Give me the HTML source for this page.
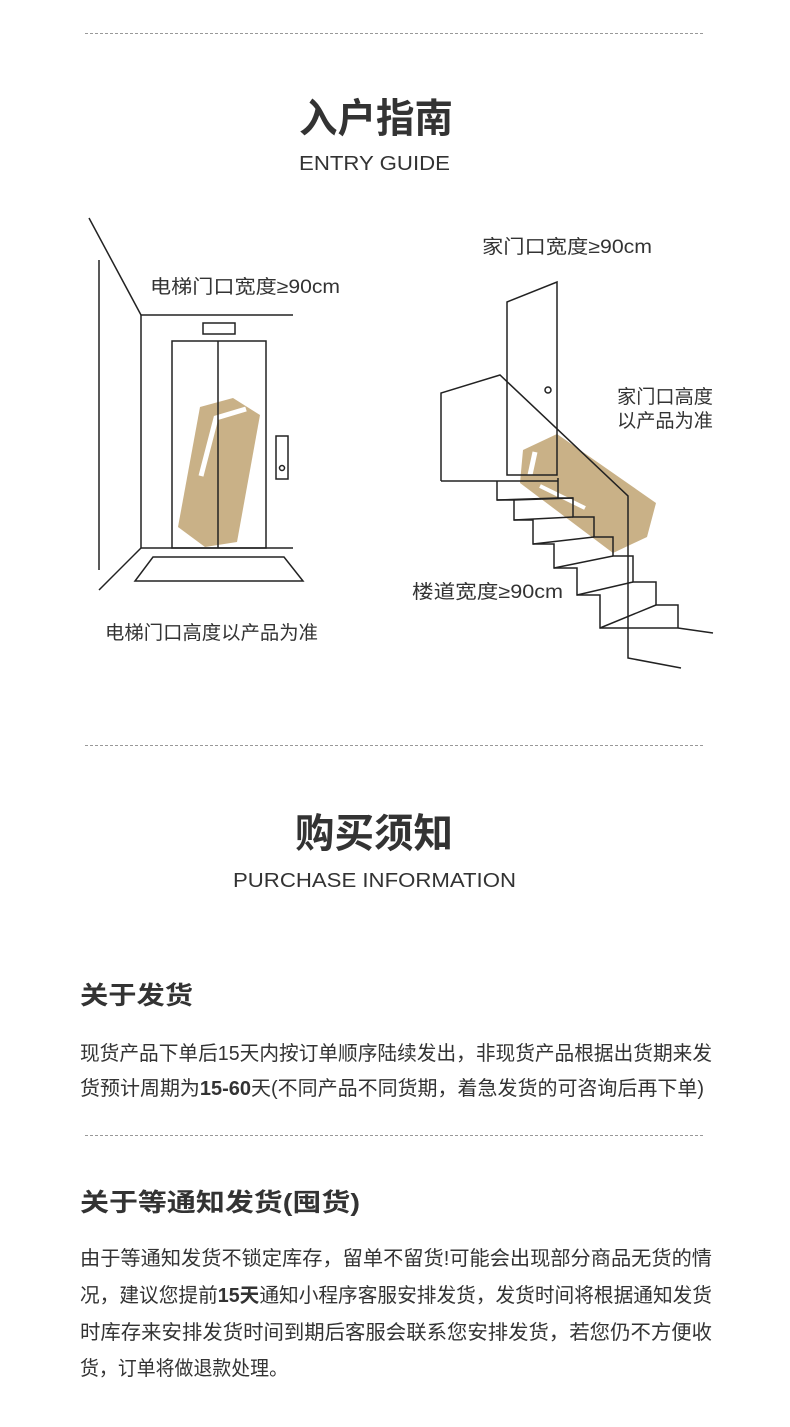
<!DOCTYPE html>
<html><head><meta charset="utf-8"><style>
html,body{margin:0;padding:0;background:#fff;}
svg{display:block;}
text{font-family:"Liberation Sans","Noto Sans CJK SC",sans-serif;fill:#333;}
.b{font-weight:bold;}
</style></head><body>
<svg width="790" height="1427" viewBox="0 0 790 1427" xmlns="http://www.w3.org/2000/svg">
<g stroke="#999" stroke-width="1" stroke-dasharray="3,2">
<line x1="85" y1="33.5" x2="705" y2="33.5"/>
<line x1="85" y1="745.5" x2="705" y2="745.5"/>
<line x1="85" y1="1135.5" x2="705" y2="1135.5"/>
</g>
<text x="299" y="132" font-size="40" class="b" textLength="154" lengthAdjust="spacingAndGlyphs">入户指南</text>
<text x="299" y="170" font-size="20" fill="#444" textLength="151" lengthAdjust="spacingAndGlyphs">ENTRY GUIDE</text>
<text x="295" y="847" font-size="40" class="b" textLength="158" lengthAdjust="spacingAndGlyphs">购买须知</text>
<text x="233" y="887" font-size="20" fill="#444" textLength="283" lengthAdjust="spacingAndGlyphs">PURCHASE INFORMATION</text>

<!-- elevator -->
<polygon points="200,407 233,398 260,415 237,542 205,547 178,527" fill="#c9b187"/>
<polyline points="201,476 216,418 246,409" fill="none" stroke="#fff" stroke-width="5"/>
<g fill="none" stroke="#222" stroke-width="1.5">
<line x1="89" y1="218" x2="141" y2="315"/>
<line x1="99" y1="260" x2="99" y2="570"/>
<line x1="141" y1="315" x2="293" y2="315"/>
<line x1="141" y1="315" x2="141" y2="548"/>
<line x1="141" y1="548" x2="293" y2="548"/>
<line x1="141" y1="548" x2="99" y2="590"/>
<polygon points="153,557 284,557 303,581 135,581"/>
<rect x="203" y="323" width="32" height="11"/>
<rect x="172" y="341" width="94" height="207"/>
<line x1="218" y1="341" x2="218" y2="548"/>
<rect x="276" y="436" width="12" height="43"/>
<circle cx="282" cy="468" r="2.5"/>
</g>
<text x="150" y="293" font-size="19" fill="#444" textLength="190" lengthAdjust="spacingAndGlyphs">电梯门口宽度≥90cm</text>
<text x="105" y="639" font-size="19" fill="#444" textLength="213" lengthAdjust="spacingAndGlyphs">电梯门口高度以产品为准</text>

<!-- stairs -->
<polygon points="523,450 557,434 656,503 647,537 613,553 520,483" fill="#c9b187"/>
<polyline points="530,475 535,452" fill="none" stroke="#fff" stroke-width="5"/>
<polyline points="540,486 585,508" fill="none" stroke="#fff" stroke-width="4"/>
<g fill="none" stroke="#222" stroke-width="1.5">
<polygon points="507,302 557,282 557,475 507,475"/>
<circle cx="548" cy="390" r="3"/>
<polyline points="441,481 441,393 500,375 628,496 628,658 681,668"/>
<line x1="441" y1="481" x2="558" y2="481"/>
<polyline points="497,481 497,500 514,500 514,520 533,520 533,544 554,544 554,568 577,568 577,595 600,595 600,628 678,628 713,633"/>
<polyline points="558,478 558,498 573,498 573,517 594,517 594,537 613,537 613,556 633,556 633,582 656,582 656,605 678,605 678,628"/>
<line x1="497" y1="500" x2="558" y2="498"/>
<line x1="514" y1="520" x2="573" y2="517"/>
<line x1="533" y1="544" x2="594" y2="537"/>
<line x1="554" y1="568" x2="613" y2="556"/>
<line x1="577" y1="595" x2="633" y2="582"/>
<line x1="600" y1="628" x2="656" y2="605"/>
<line x1="514" y1="500" x2="573" y2="498"/>
</g>
<text x="482" y="253" font-size="19" fill="#444" textLength="170" lengthAdjust="spacingAndGlyphs">家门口宽度≥90cm</text>
<text x="617" y="403" font-size="19" fill="#444" textLength="96" lengthAdjust="spacingAndGlyphs">家门口高度</text>
<text x="617" y="427" font-size="19" fill="#444" textLength="96" lengthAdjust="spacingAndGlyphs">以产品为准</text>
<text x="412" y="598" font-size="19" fill="#444" textLength="151" lengthAdjust="spacingAndGlyphs">楼道宽度≥90cm</text>

<!-- purchase text -->
<text x="80" y="1004" font-size="25" class="b" textLength="113" lengthAdjust="spacingAndGlyphs">关于发货</text>
<text x="80" y="1060" font-size="20" textLength="632" lengthAdjust="spacingAndGlyphs">现货产品下单后15天内按订单顺序陆续发出，非现货产品根据出货期来发</text>
<text x="80" y="1095" font-size="20" textLength="624" lengthAdjust="spacingAndGlyphs">货预计周期为<tspan class="b">15-60</tspan>天(不同产品不同货期，着急发货的可咨询后再下单)</text>
<text x="80" y="1211" font-size="25" class="b" textLength="280" lengthAdjust="spacingAndGlyphs">关于等通知发货(囤货)</text>
<text x="80" y="1265" font-size="20" textLength="632" lengthAdjust="spacingAndGlyphs">由于等通知发货不锁定库存，留单不留货!可能会出现部分商品无货的情</text>
<text x="80" y="1302" font-size="20" textLength="632" lengthAdjust="spacingAndGlyphs">况，建议您提前<tspan class="b">15天</tspan>通知小程序客服安排发货，发货时间将根据通知发货</text>
<text x="80" y="1339" font-size="20" textLength="632" lengthAdjust="spacingAndGlyphs">时库存来安排发货时间到期后客服会联系您安排发货，若您仍不方便收</text>
<text x="80" y="1375" font-size="20" textLength="208" lengthAdjust="spacingAndGlyphs">货，订单将做退款处理。</text>
</svg>
</body></html>
